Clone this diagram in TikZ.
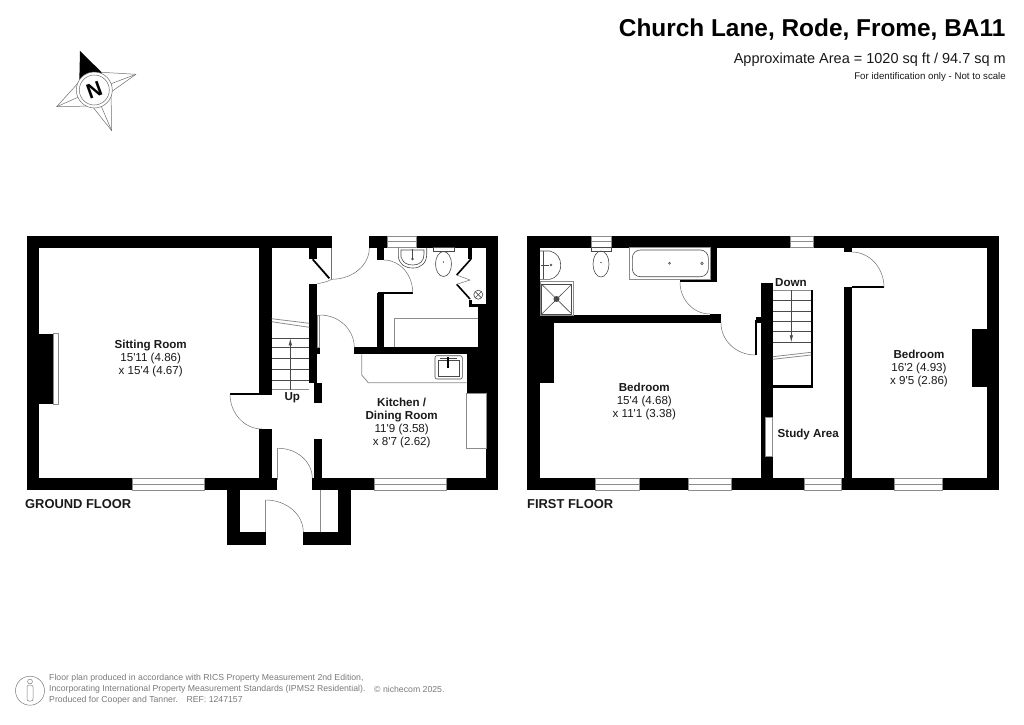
\documentclass[tikz,border=0pt]{standalone}
\usepackage{fontspec}
\setmainfont[Ligatures=TeXOff]{Liberation Sans}
\usepackage{xcolor}
\usepackage{tikz}
\usetikzlibrary{arrows.meta}
\definecolor{edgegrey}{HTML}{8C8C8C}
\definecolor{swinggrey}{HTML}{6E6E6E}
\definecolor{fixgrey}{HTML}{4A4A4A}
\definecolor{footgrey}{HTML}{7A7A7A}
\tikzset{
  wall/.style={fill=black},
  edgeline/.style={draw=edgegrey, line width=0.8pt},
  panel/.style={draw=edgegrey, fill=white, line width=0.8pt},
  swing/.style={draw=swinggrey, line width=0.5pt},
  fixture/.style={draw=fixgrey, line width=0.6pt},
  tread/.style={draw=fixgrey, line width=0.6pt},
  roomlab/.style={align=center, inner sep=0pt, font=\fontsize{11.6}{13}\selectfont, text=black!90},
  floorlab/.style={anchor=west, inner sep=0pt, font=\fontsize{12.9}{14}\selectfont\bfseries, text=black!90},
  footlab/.style={anchor=west, inner sep=0pt, text=footgrey, font=\fontsize{8.7}{10}\selectfont},
  headlab/.style={anchor=east, inner sep=0pt},
}
\begin{document}
\begin{tikzpicture}[x=1pt,y=-1pt]
  \useasboundingbox (0,0) rectangle (1024,724);
  % ground floor
  \fill[wall] (26.7,235.7) rectangle (331.7,247.7);
  \fill[wall] (369.3,235.7) rectangle (498.3,247.7);
  \fill[wall] (26.7,235.7) rectangle (39,490.3);
  \fill[wall] (26.7,478) rectangle (277.3,490.3);
  \fill[wall] (312.3,478) rectangle (498.3,490.3);
  \fill[wall] (486,235.7) rectangle (498.3,490.3);
  \fill[wall] (39,333.7) rectangle (53.3,404);
  \fill[wall] (259.3,247) rectangle (271.7,394.5);
  \fill[wall] (259.3,428.7) rectangle (271.7,478);
  \fill[wall] (230,393.2) rectangle (260,394.6);
  \fill[wall] (309.3,247) rectangle (317.3,258.5);
  \fill[wall] (309.3,283.7) rectangle (317.3,383);
  \fill[wall] (317.3,347) rectangle (320,353.5);
  \fill[wall] (314,383) rectangle (321.7,403);
  \fill[wall] (314,438.7) rectangle (321.7,478);
  \fill[wall] (354.3,347.3) rectangle (478.3,354.3);
  \fill[wall] (466.7,354) rectangle (486,393);
  \fill[wall] (478.3,304) rectangle (486,393);
  \fill[wall] (468.7,300) rectangle (471.7,307);
  \fill[wall] (468.7,304) rectangle (486,307);
  \fill[wall] (376.7,293.3) rectangle (384,347.3);
  \fill[wall] (376.7,247) rectangle (384,260);
  \fill[wall] (378,291.7) rectangle (412.7,293.5);
  \fill[wall] (468.3,247) rectangle (471.7,259.3);
  \fill[wall] (227.3,490) rectangle (240,544.7);
  \fill[wall] (227.3,532) rectangle (265.7,544.7);
  \fill[wall] (303.3,532) rectangle (350.7,544.7);
  \fill[wall] (338.3,490) rectangle (350.7,544.7);
  \draw[line width=1.8pt] (312.7,259.3) -- (329.3,278.3);
  \draw[line width=1.6pt] (471,259) -- (456.7,275);
  \draw[line width=1.6pt] (456.7,284.3) -- (470,299);
  \draw[swing] (456.7,275) -- (470,280) -- (456.7,284.3);
  % ground floor windows
  \draw[panel] (132.3,478) rectangle (204.3,490.3);
  \draw[edgeline] (132.3,484.1) -- (204.3,484.1);
  \draw[panel] (374.3,478) rectangle (446.7,490.3);
  \draw[edgeline] (374.3,484.1) -- (446.7,484.1);
  \draw[panel] (387.3,236) rectangle (416.7,247.7);
  \draw[edgeline] (387.3,241.8) -- (416.7,241.8);
  \draw[panel] (53.3,333.7) rectangle (58.3,404);
  \draw[panel] (466.7,393) rectangle (486,448.3);
  \draw[panel] (317.3,315) rectangle (319.7,347);
  % ground floor doors
  \draw[swing] (230,394) arc[start angle=180,end angle=90,x radius=32,y radius=35];
  \draw[swing] (320,315) arc[start angle=270,end angle=360,x radius=34.3,y radius=32.5];
  \draw[swing] (278.3,448.3) arc[start angle=270,end angle=360,x radius=34,y radius=30];
  \draw[swing] (265.7,500) arc[start angle=270,end angle=360,x radius=37.6,y radius=32];
  \draw[swing] (369.3,248) arc[start angle=0,end angle=90,x radius=37.6,y radius=31.3];
  \draw[swing] (331.7,279.3) .. controls (326,282) .. (317.3,283.7);
  \draw[swing] (384,260) arc[start angle=270,end angle=360,x radius=28.7,y radius=32.7];
  \draw[swing] (331.7,247.7) -- (331.7,279.3);
  \draw[edgeline] (277.6,448.3) -- (277.6,480);
  \draw[edgeline] (265.7,500) -- (265.7,532);
  \draw[edgeline] (320.7,490.3) -- (320.7,532);
  % ground floor stairs
  \draw[tread] (271.7,338.3) -- (309.3,338.3);
  \draw[tread] (271.7,347.7) -- (309.3,347.7);
  \draw[tread] (271.7,358.3) -- (309.3,358.3);
  \draw[tread] (271.7,369.3) -- (309.3,369.3);
  \draw[tread] (271.7,380) -- (309.3,380);
  \draw[edgeline] (271.7,389.7) -- (309.3,389.7);
  \draw[edgeline] (271.7,318.7) -- (309.3,323.3);
  \draw[edgeline] (271.7,321.7) -- (309.3,327.3);
  \draw[tread,-{Latex[length=7pt,width=3.4pt]}] (290.3,389.7) -- (290.3,338.3);
  % kitchen and bathroom fittings
  \draw[edgeline] (361.7,354.3) -- (361.7,375) -- (368.3,382.7) -- (466.7,382.7);
  \draw[fixture,rounded corners=2pt] (435,355.7) rectangle (462.3,379);
  \draw[fixture] (438,360) rectangle (459.3,376.7);
  \draw[fixture] (440,358) -- (457,358);
  \draw[line width=1.1pt] (448,357) -- (448,368);
  \draw[edgeline] (394.3,347.3) -- (394.3,318.3) -- (478.3,318.3);
  \draw[fixture] (398.3,247.7) -- (398.3,257) .. controls (400,265) and (405,268) .. (413,268)
    .. controls (421,268) and (426.7,263) .. (426.7,254) -- (426.7,247.7);
  \draw[fixture] (401,250) -- (401,257) .. controls (403,263) and (407,265) .. (413,265)
    .. controls (420,265) and (424,261) .. (424,254) -- (424,250) -- cycle;
  \draw[fixture] (412.5,249) -- (412.5,258);
  \draw[fixture] (412.5,259) circle[radius=0.9];
  \draw[fixture] (433.3,247.7) rectangle (454,251.5);
  \draw[fixture] (443.5,264) ellipse[x radius=8,y radius=12.5];
  \fill (443.5,262) circle[radius=0.7];
  \draw[fixture] (478.3,294.7) circle[radius=4.5];
  \draw[fixture] (475.1,291.5) -- (481.5,297.9);
  \draw[fixture] (481.5,291.5) -- (475.1,297.9);
  % first floor
  \fill[wall] (527.3,235.7) rectangle (999,247.7);
  \fill[wall] (527.3,235.7) rectangle (540,490.3);
  \fill[wall] (986.7,235.7) rectangle (999,490.3);
  \fill[wall] (527.3,478) rectangle (999,490.3);
  \fill[wall] (540,315) rectangle (721,323.3);
  \fill[wall] (540,315) rectangle (554.3,383.3);
  \fill[wall] (710,247) rectangle (716.7,282.3);
  \fill[wall] (680,279.8) rectangle (716.7,282.3);
  \fill[wall] (710,314) rectangle (721,316);
  \fill[wall] (760.7,282.7) rectangle (772.7,478);
  \fill[wall] (756,316.7) rectangle (760.7,323);
  \fill[wall] (755,320) rectangle (757,355);
  \fill[wall] (811,290) rectangle (813.3,388);
  \fill[wall] (772,385.3) rectangle (813.3,388);
  \fill[wall] (844.3,287.3) rectangle (851.7,478);
  \fill[wall] (844.3,247) rectangle (851.7,252.3);
  \fill[wall] (851.7,286.3) rectangle (884,288);
  \fill[wall] (972.3,329) rectangle (986.7,386.7);
  % first floor windows
  \draw[panel] (591,236) rectangle (611.7,247.7);
  \draw[edgeline] (591,241.8) -- (611.7,241.8);
  \draw[panel] (790.7,236) rectangle (813.3,247.7);
  \draw[edgeline] (790.7,241.8) -- (813.3,241.8);
  \draw[panel] (595,478) rectangle (639,490.3);
  \draw[edgeline] (595,484.1) -- (639,484.1);
  \draw[panel] (688.3,478) rectangle (731.7,490.3);
  \draw[edgeline] (688.3,484.1) -- (731.7,484.1);
  \draw[panel] (804,478) rectangle (841.7,490.3);
  \draw[edgeline] (804,484.1) -- (841.7,484.1);
  \draw[panel] (894,478) rectangle (942.7,490.3);
  \draw[edgeline] (894,484.1) -- (942.7,484.1);
  \draw[panel] (765.7,417.7) rectangle (772.7,456.7);
  % first floor doors
  \draw[swing] (680,282) arc[start angle=180,end angle=90,x radius=30,y radius=32];
  \draw[swing] (721,323) arc[start angle=180,end angle=90,x radius=34.3,y radius=32];
  \draw[swing] (851.7,252) arc[start angle=270,end angle=360,x radius=32.3,y radius=35.3];
  % first floor stairs
  \draw[edgeline] (772.7,290) -- (811,290);
  \draw[tread] (772.7,300) -- (811,300);
  \draw[tread] (772.7,311) -- (811,311);
  \draw[tread] (772.7,321.7) -- (811,321.7);
  \draw[tread] (772.7,331.7) -- (811,331.7);
  \draw[tread] (772.7,342.3) -- (811,342.3);
  \draw[edgeline] (772.7,356.7) -- (811,352.3);
  \draw[edgeline] (772.7,359.3) -- (811,355);
  \draw[tread,-{Latex[length=7pt,width=3.4pt]}] (791.3,290) -- (791.3,342.3);
  % first floor bathroom fittings
  \draw[edgeline] (629.3,247.7) rectangle (710,279.3);
  \draw[fixture,rounded corners=8pt] (632.3,250) rectangle (708.3,276.7);
  \draw[fixture] (669.5,263.3) circle[radius=1];
  \draw[fixture] (702,263.3) circle[radius=1.3];
  \draw[fixture] (540,251) -- (550,251) .. controls (557,253) and (560.7,258) .. (560.7,265)
    .. controls (560.7,273) and (556,278) .. (550,279.3) -- (540,279.3);
  \draw[fixture] (543.5,251) -- (543.5,279.3);
  \draw[fixture] (541,265) -- (549,265);
  \draw[fixture] (551,265) circle[radius=1];
  \draw[edgeline] (540,281.7) rectangle (573.3,315);
  \draw[fixture] (541.7,284.3) rectangle (571.7,314);
  \draw[fixture] (541.7,284.3) -- (571.7,314);
  \draw[fixture] (571.7,284.3) -- (541.7,314);
  \fill[fixgrey] (556.5,299) circle[radius=3];
  \draw[fixture] (591.7,247.7) rectangle (611.7,251);
  \draw[fixture] (601,264) ellipse[x radius=8,y radius=13];
  \fill (601,262.5) circle[radius=0.7];
  % compass
  \coordinate (northtip) at (80,51);
  \coordinate (easttip) at (136,74.3);
  \coordinate (southtip) at (111.7,130.7);
  \coordinate (westtip) at (56.7,106.7);
  \coordinate (hub) at (94.3,90);
  \fill (northtip) -- (101.7,72.3) -- (hub) -- (79.3,81.7) -- cycle;
  \draw[swing] (easttip) -- (101.7,72.3);
  \draw[swing] (easttip) -- (hub) -- (southtip);
  \draw[swing] (easttip) -- (111,92) -- (southtip);
  \draw[swing] (southtip) -- (92,106) -- (westtip);
  \draw[swing] (westtip) -- (hub);
  \draw[swing] (westtip) -- (79.3,81.7);
  \draw[swing,fill=white] (hub) circle[radius=18];
  \draw[swing] (hub) circle[radius=15];
  \node[rotate=20, font=\fontsize{21}{21}\selectfont\bfseries] (northmark) at (hub) {N};
  % header
  \node[headlab, font=\fontsize{24.4}{26}\selectfont\bfseries] (titlelab) at (1005.5,30) {Church Lane, Rode, Frome, BA11};
  \node[headlab, font=\fontsize{14.5}{16}\selectfont, text=black!90] (arealab) at (1006,59.5) {Approximate Area = 1020 sq ft / 94.7 sq m};
  \node[headlab, font=\fontsize{9.7}{11}\selectfont, text=black!90] (scalelab) at (1006,77) {For identification only - Not to scale};
  % room labels
  \node[roomlab] (sittinglab) at (150.7,358.3) {\textbf{Sitting Room}\\15'11 (4.86)\\x 15'4 (4.67)};
  \node[roomlab] (kitchenlab) at (401.7,423.3) {\textbf{Kitchen /}\\\textbf{Dining Room}\\11'9 (3.58)\\x 8'7 (2.62)};
  \node[roomlab] (bedroomalab) at (644.3,401.3) {\textbf{Bedroom}\\15'4 (4.68)\\x 11'1 (3.38)};
  \node[roomlab] (bedroomblab) at (919,368) {\textbf{Bedroom}\\16'2 (4.93)\\x 9'5 (2.86)};
  \node[roomlab] (studylab) at (808.3,434) {\textbf{Study Area}};
  \node[roomlab] (uplab) at (292.3,398) {\textbf{Up}};
  \node[roomlab] (downlab) at (791,282.7) {\textbf{Down}};
  \node[floorlab] (groundlab) at (25,504) {GROUND FLOOR};
  \node[floorlab] (firstlab) at (527,504) {FIRST FLOOR};
  % footer
  \node[footlab] (foota) at (49,678.5) {Floor plan produced in accordance with RICS Property Measurement 2nd Edition,};
  \node[footlab] (footb) at (49,689.3) {Incorporating International Property Measurement Standards (IPMS2 Residential).};
  \node[footlab] (footc) at (49,700) {Produced for Cooper and Tanner.\quad REF: 1247157};
  \node[footlab] (footd) at (374,689.3) {© nichecom 2025.};
  \draw[draw=footgrey, line width=0.5pt] (30,690.7) circle[radius=14.5];
  \draw[draw=footgrey, line width=0.5pt] (30,681.5) circle[radius=2.4];
  \draw[draw=footgrey, line width=0.5pt, rounded corners=2pt] (27,685) rectangle (33,701);
\end{tikzpicture}
\end{document}
